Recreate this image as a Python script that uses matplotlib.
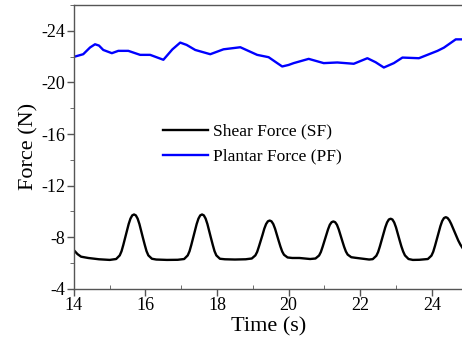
import matplotlib
matplotlib.use("Agg")
import matplotlib.pyplot as plt
from matplotlib.ticker import MultipleLocator

plt.rcParams['font.family'] = ['Liberation Serif', 'DejaVu Serif']
plt.rcParams['axes.unicode_minus'] = False

# shear force (SF)
sf_t = [14.00, 14.10, 14.20, 14.40, 14.70, 15.00,
        15.18, 15.28, 15.33, 15.38, 15.43, 15.48, 15.53, 15.58, 15.63, 15.68,
        15.73, 15.78, 15.83, 15.88, 15.93, 15.98, 16.03, 16.08, 16.18,
        16.30, 16.60, 16.90,
        17.08, 17.18, 17.23, 17.28, 17.33, 17.38, 17.43, 17.48, 17.53, 17.58,
        17.63, 17.68, 17.73, 17.78, 17.83, 17.88, 17.93, 17.98, 18.08,
        18.22, 18.50, 18.80,
        18.97, 19.07, 19.12, 19.17, 19.22, 19.27, 19.32, 19.37, 19.42, 19.47,
        19.52, 19.57, 19.62, 19.67, 19.72, 19.77, 19.82, 19.87, 19.97,
        20.10, 20.30, 20.60,
        20.75, 20.85, 20.90, 20.95, 21.00, 21.05, 21.10, 21.15, 21.20, 21.25,
        21.30, 21.35, 21.40, 21.45, 21.50, 21.55, 21.60, 21.65, 21.75,
        21.85, 22.05, 22.25,
        22.35, 22.45, 22.50, 22.55, 22.60, 22.65, 22.70, 22.75, 22.80, 22.85,
        22.90, 22.95, 23.00, 23.05, 23.10, 23.15, 23.20, 23.25, 23.35,
        23.47, 23.65,
        23.89, 23.99, 24.04, 24.09, 24.14, 24.19, 24.24, 24.29, 24.34, 24.39,
        24.44, 24.49, 24.54, 24.59, 24.64, 24.69, 24.74, 24.80, 24.87]
sf_y = [-7.00, -6.70, -6.50, -6.40, -6.30, -6.25,
        -6.32, -6.60, -6.92, -7.41, -7.94, -8.47, -9.03, -9.45, -9.70, -9.77,
        -9.70, -9.45, -9.03, -8.47, -7.94, -7.41, -6.92, -6.60, -6.34,
        -6.28, -6.25, -6.26,
        -6.32, -6.60, -6.92, -7.41, -7.94, -8.47, -9.03, -9.45, -9.70, -9.77,
        -9.70, -9.45, -9.03, -8.47, -7.94, -7.41, -6.92, -6.60, -6.34,
        -6.30, -6.28, -6.30,
        -6.36, -6.60, -6.87, -7.29, -7.74, -8.19, -8.67, -9.03, -9.24, -9.30,
        -9.24, -9.03, -8.67, -8.19, -7.74, -7.29, -6.90, -6.65, -6.44,
        -6.40, -6.40, -6.32,
        -6.36, -6.59, -6.86, -7.27, -7.71, -8.15, -8.61, -8.97, -9.17, -9.23,
        -9.17, -8.97, -8.61, -8.15, -7.71, -7.27, -6.90, -6.66, -6.46,
        -6.42, -6.35, -6.28,
        -6.31, -6.57, -6.86, -7.30, -7.78, -8.26, -8.77, -9.15, -9.38, -9.44,
        -9.38, -9.15, -8.77, -8.26, -7.78, -7.30, -6.90, -6.60, -6.32,
        -6.25, -6.26,
        -6.32, -6.58, -6.88, -7.34, -7.84, -8.34, -8.86, -9.26, -9.49, -9.56,
        -9.50, -9.32, -9.05, -8.72, -8.38, -8.05, -7.75, -7.43, -7.13]

# plantar force (PF)
pf_t = [14.00, 14.03, 14.26, 14.45, 14.59, 14.70, 14.82, 15.06, 15.24, 15.52, 15.85, 16.13,
        16.50, 16.75, 16.97, 17.15, 17.39, 17.81, 18.18, 18.65, 19.12, 19.44, 19.65,
        19.82, 20.00, 20.14, 20.56, 20.98, 21.36, 21.82, 22.20, 22.43, 22.66, 22.94,
        23.18, 23.64, 24.16, 24.34, 24.67, 24.87]
pf_y = [-22.00, -22.00, -22.18, -22.70, -22.95, -22.85, -22.51, -22.26, -22.44, -22.44, -22.13, -22.13,
        -21.75, -22.55, -23.08, -22.90, -22.51, -22.18, -22.56, -22.72, -22.13, -21.95, -21.55,
        -21.23, -21.35, -21.49, -21.82, -21.49, -21.54, -21.44, -21.87, -21.56, -21.15, -21.49,
        -21.92, -21.87, -22.44, -22.69, -23.33, -23.33]

fig = plt.figure(figsize=(4.62, 3.49), dpi=100)
ax = fig.add_axes([0.160, 0.172, 0.842, 0.814])

ax.plot(sf_t, sf_y, color='black', lw=1.7, label='Shear Force (SF)')
ax.plot(pf_t, pf_y, color='#0000ff', lw=1.7, label='Plantar Force (PF)')

ax.set_xlim(14, 24.87)
ax.set_ylim(-4, -26)
ax.xaxis.set_major_locator(MultipleLocator(2))
ax.xaxis.set_minor_locator(MultipleLocator(1))
ax.yaxis.set_major_locator(MultipleLocator(4))
ax.yaxis.set_minor_locator(MultipleLocator(2))

ax.spines['right'].set_visible(False)
for s in ['left', 'bottom', 'top']:
    ax.spines[s].set_color('#555555')
    ax.spines[s].set_linewidth(1.0)
ax.tick_params(axis='both', which='major', direction='out', length=5, width=1,
               color='#555555', labelsize=13, pad=1)
ax.tick_params(axis='x', which='minor', direction='in', length=3, color='#555555')
ax.tick_params(axis='y', which='minor', direction='out', length=3, color='#555555')

ax.set_xlabel('Time (s)', fontsize=16, labelpad=2)
ax.set_ylabel('Force (N)', fontsize=16, labelpad=2)

ax.legend(loc='center left', bbox_to_anchor=(0.229, 0.51), frameon=False,
          fontsize=12.5, handlelength=2.6, handletextpad=0.3, labelspacing=0.5,
          borderpad=0, borderaxespad=0)

fig.savefig('out.png', dpi=100)
